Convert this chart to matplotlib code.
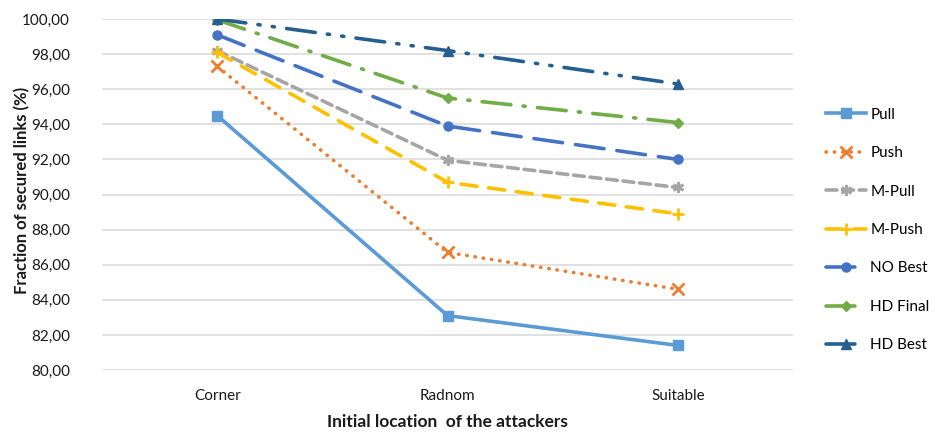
import matplotlib
matplotlib.use("Agg")
import matplotlib.pyplot as plt
from matplotlib.ticker import FuncFormatter, MultipleLocator

plt.rcParams['font.family'] = ['Lato', 'DejaVu Sans']

# data
locations = ["Corner", "Radnom", "Suitable"]
pull = [94.5, 83.1, 81.4]
push = [97.3, 86.7, 84.6]
m_pull = [98.2, 91.95, 90.4]
m_push = [98.1, 90.7, 88.9]
no_best = [99.1, 93.9, 92.0]
hd_final = [99.95, 95.5, 94.1]
hd_best = [100.0, 98.2, 96.3]

series = [
    ("Pull", pull, "#5B9BD5", "s", "-"),
    ("Push", push, "#ED7D31", "x", (0, (0.1, 2.2))),
    ("M-Pull", m_pull, "#A5A5A5", (6, 2, 0), (0, (3, 1.6))),
    ("M-Push", m_push, "#FFC000", "+", (0, (4.5, 3.2))),
    ("NO Best", no_best, "#4472C4", "o", (0, (8, 3.6))),
    ("HD Final", hd_final, "#70AD47", "D", (0, (8, 3.4, 0.6, 3.4))),
    ("HD Best", hd_best, "#255E91", "^", (0, (8, 3.4, 0.6, 3.4, 0.6, 3.4))),
]

fig = plt.figure(figsize=(9.36, 4.33), dpi=100)
ax = fig.add_axes([102 / 936, 1 - 370 / 433, (793 - 102) / 936, (370 - 19) / 433])

x = list(range(len(locations)))
for name, vals, color, marker, ls in series:
    ms = 6.5
    mew = 1.0
    if marker in ("x", "+") or isinstance(marker, tuple):
        ms = 8
        mew = 2.0
    if marker == "D":
        ms = 5.5
    ax.plot(x, vals, color=color, linestyle=ls, linewidth=2.6,
            marker=marker, markersize=ms, markeredgewidth=mew,
            markeredgecolor=color, markerfacecolor=color,
            dash_capstyle="round", label=name)

ax.set_xlim(-0.5, 2.5)
ax.set_ylim(80, 100)
ax.yaxis.set_major_locator(MultipleLocator(2))
ax.yaxis.set_major_formatter(FuncFormatter(lambda v, p: f"{v:.2f}".replace(".", ",")))
ax.set_xticks(x)
ax.set_xticklabels(locations)
ax.grid(axis="y", color="#D9D9D9", linewidth=1.1)
ax.set_axisbelow(True)
for s in ax.spines.values():
    s.set_visible(False)
ax.tick_params(axis="both", length=0, labelsize=11, labelcolor="#1a1a1a")
ax.tick_params(axis="y", pad=23)
ax.tick_params(axis="x", pad=14)

# axis titles
fig.text(22 / 936, 1 - 190 / 433, "Fraction of secured links (%)", rotation=90,
         ha="center", va="center", fontsize=12, fontweight="bold", color="#1a1a1a")
fig.text(447 / 936, 1 - 422 / 433, "Initial location  of the attackers",
         ha="center", va="center", fontsize=12.5, fontweight="bold", color="#1a1a1a")

fig.legend(loc="center left", bbox_to_anchor=(826 / 936, 1 - 230 / 433), frameon=False,
           fontsize=11, handlelength=2.6, labelspacing=1.6, handletextpad=0.3,
           borderaxespad=0, borderpad=0)

fig.savefig("out.png", dpi=100)
